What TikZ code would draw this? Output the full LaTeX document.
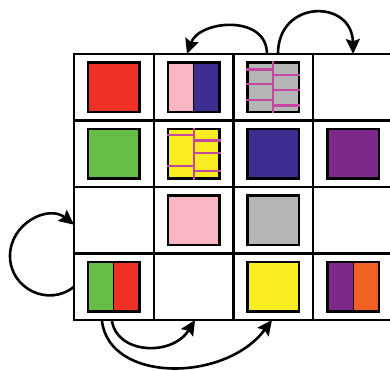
\documentclass[tikz,border=0pt]{standalone}
\usetikzlibrary{arrows.meta,calc}

\definecolor{swRed}{RGB}{238,49,36}
\definecolor{swGreen}{RGB}{103,188,69}
\definecolor{swPink}{RGB}{247,182,194}
\definecolor{swBlue}{RGB}{59,46,143}
\definecolor{swGray}{RGB}{180,182,182}
\definecolor{swYellow}{RGB}{249,237,34}
\definecolor{swPurple}{RGB}{125,41,140}
\definecolor{swOrange}{RGB}{241,97,34}
\definecolor{swMagenta}{RGB}{196,73,158}

% magenta bars over a swatch: one full-height bar in the middle,
% short bars on the left (#2) and on the right (#3) at the given fractions
\newcommand{\hatchlines}[3]{%
  \draw[hatch] (#1.north) -- (#1.south);
  \foreach \f in {#2}
    \draw[hatch] ($(#1.north west)!\f!(#1.south west)$) -- ($(#1.north)!\f!(#1.south)$);
  \foreach \f in {#3}
    \draw[hatch] ($(#1.north)!\f!(#1.south)$) -- ($(#1.north east)!\f!(#1.south east)$);
}

\begin{document}
\begin{tikzpicture}[x=1pt,y=1pt,
  cell/.style={draw=black,line width=2.3pt,minimum width=79.75pt,minimum height=66.5pt,inner sep=0pt,outer sep=0pt},
  swatch/.style={draw=black,line width=2.5pt,minimum width=51.5pt,minimum height=49.5pt,inner sep=0pt},
  plain swatch/.style={swatch,fill=#1},
  split swatch/.style 2 args={swatch,path picture={
      \fill[#1] (path picture bounding box.south west) rectangle (path picture bounding box.north);
      \fill[#2] (path picture bounding box.south) rectangle (path picture bounding box.north east);
      \draw[line width=1.2pt] (path picture bounding box.south) -- (path picture bounding box.north);}},
  hatch/.style={draw=swMagenta,line width=2.2pt},
  link/.style={draw=black,line width=2.6pt,-{Stealth[length=15pt,width=14pt,inset=2.5pt]}}]

\useasboundingbox (0,0) rectangle (390,369);
\clip (0,0) rectangle (390,369);
\fill[white] (0,0) rectangle (390,369);

% the 4x4 table
\foreach \r in {1,...,4}
  \foreach \c in {1,...,4}
    \node[cell] (c\r\c) at ({74+79.75*(\c-0.5)},{315-66.5*(\r-0.5)}) {};

% row 1
\node[plain swatch=swRed] (s11) at (c11) {};
\node[split swatch={swPink}{swBlue}] (s12) at (c12) {};
\node[plain swatch=swGray] (s13) at (c13) {};
\hatchlines{s13}{0.16,0.435,0.74}{0.26,0.56,0.85}
% row 2
\node[plain swatch=swGreen] (s21) at (c21) {};
\node[plain swatch=swYellow] (s22) at (c22) {};
\hatchlines{s22}{0.145,0.735}{0.245,0.49,0.835}
\node[plain swatch=swBlue] (s23) at (c23) {};
\node[plain swatch=swPurple] (s24) at (c24) {};
% row 3
\node[plain swatch=swPink] (s32) at (c32) {};
\node[plain swatch=swGray] (s33) at (c33) {};
% row 4
\node[split swatch={swGreen}{swRed}] (s41) at (c41) {};
\node[plain swatch=swYellow] (s43) at (c43) {};
\node[split swatch={swPurple}{swOrange}] (s44) at (c44) {};

% arrows over the top row
\draw[link] ([xshift=-6.4pt]c13.north) .. controls +(0,40) and +(12,34) .. ([xshift=-6.6pt]c12.north);
\draw[link] ([xshift=4.6pt]c13.north) .. controls +(0,55) and +(-1,55) .. (c14.north);

% loop on the left
\coordinate (loopL) at (10,113);
\draw[link] (c41.west) .. controls +(-25.5,-20.6) and (10,80.2) .. (loopL)
  .. controls (10,145.8) and +(-25.5,20.4) .. ([yshift=-4.5pt]c31.west);

% arrows under the bottom row
\draw[link] ([xshift=-2pt]c41.south) .. controls +(4,-34) and +(-23,-37) .. ([xshift=1.4pt]c42.south);
\draw[link] ([xshift=-12pt]c41.south) .. controls +(6,-63) and +(-47,-63) .. ([xshift=-1.4pt]c43.south);
\end{tikzpicture}
\end{document}
